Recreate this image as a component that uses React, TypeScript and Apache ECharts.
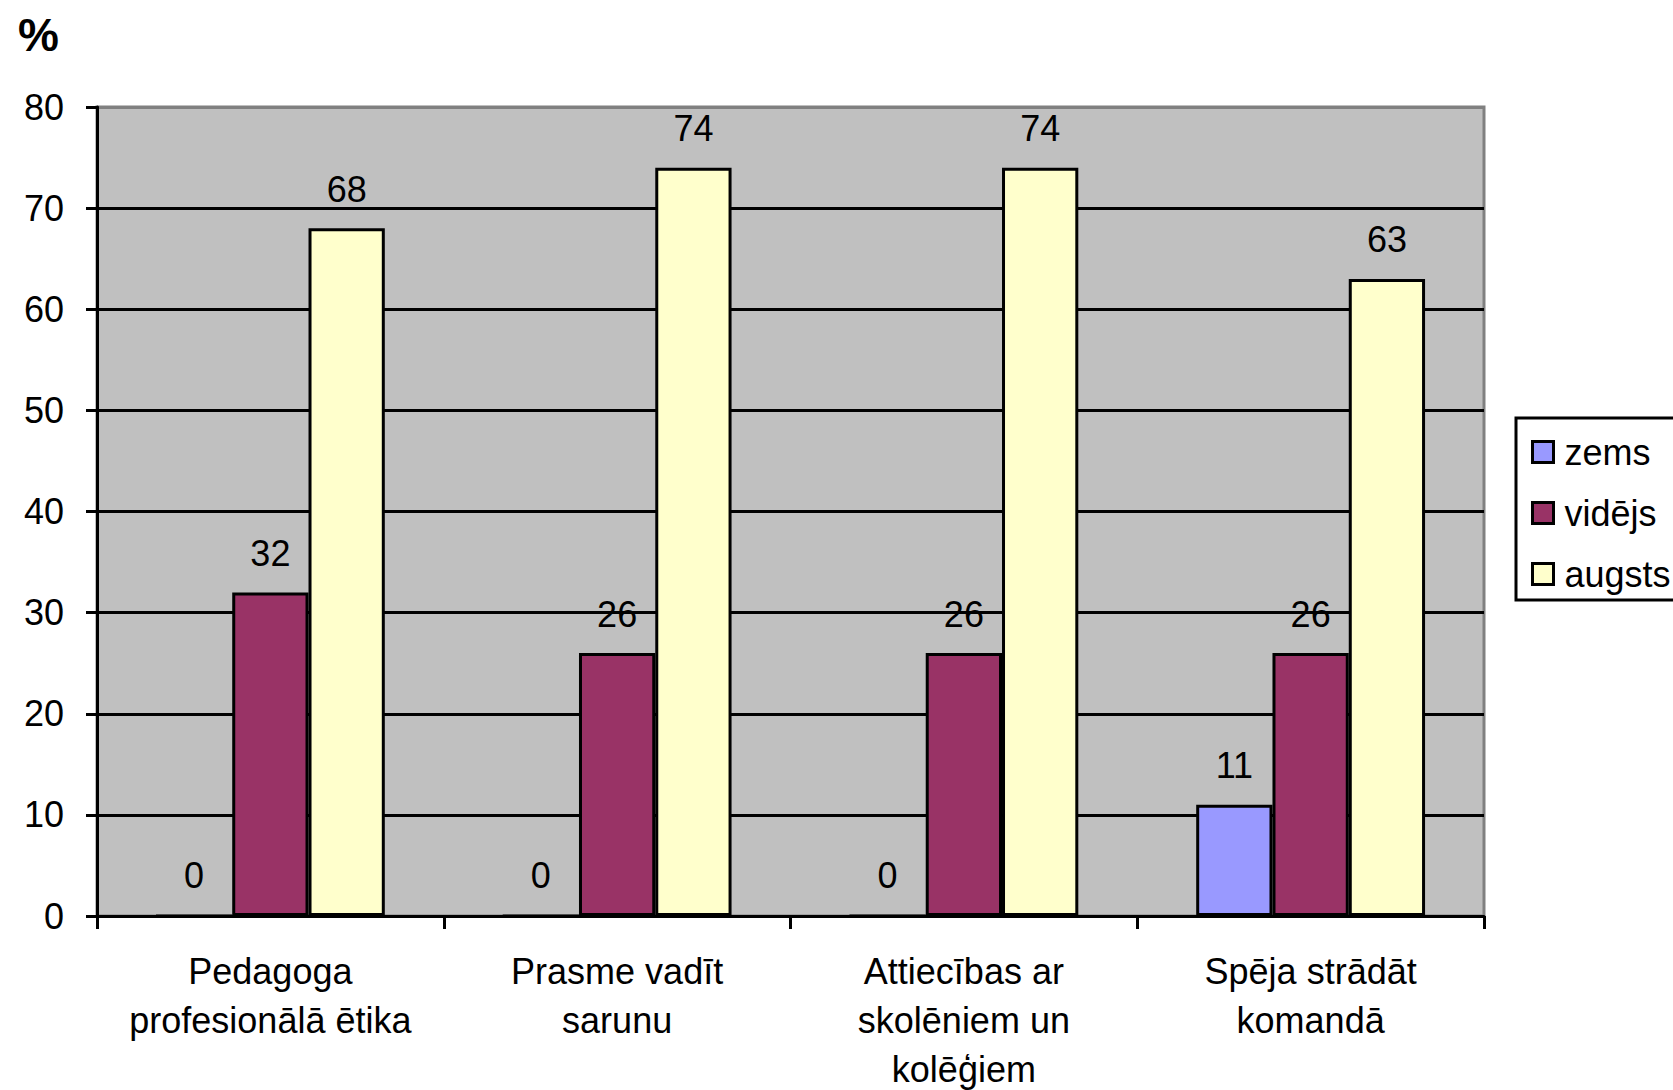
import React, { useEffect, useRef } from "react";
import * as echarts from "echarts";

const categories = [
  "Pedagoga\nprofesionālā ētika",
  "Prasme vadīt\nsarunu",
  "Attiecības ar\nskolēniem un\nkolēģiem",
  "Spēja strādāt\nkomandā",
];
const seriesNames = ["zems", "vidējs", "augsts"];
const zems = [0, 0, 0, 11];
const videjs = [32, 26, 26, 26];
const augsts = [68, 74, 74, 63];
const colors = ["#9999FF", "#993366", "#FFFFCC"];

const FONT = "'Liberation Sans', Arial, sans-serif";

export default function App() {
  const ref = useRef<HTMLDivElement>(null);
  useEffect(() => {
    if (!ref.current) return;
    const chart = echarts.init(ref.current, undefined, { renderer: "svg" });
    const values = [zems, videjs, augsts];
    const splitColors = ["#000", "#000", "#000", "#000", "#000", "#000", "#000", "#000", "#808080"];
    chart.setOption({
      animation: false,
      backgroundColor: "#ffffff",
      textStyle: { fontFamily: FONT },
      grid: {
        left: 97,
        right: 189,
        top: 107,
        bottom: 174,
        containLabel: false,
        outerBoundsMode: "none",
        show: true,
        backgroundColor: "#C0C0C0",
        borderColor: "#808080",
        borderWidth: 3,
      },
      graphic: [
        {
          type: "rect",
          shape: { x: 1516, y: 418, width: 220, height: 182 },
          style: { fill: "#ffffff", stroke: "#000000", lineWidth: 3 },
          z: 0,
        },
        {
          type: "text",
          x: 18,
          y: 12,
          style: { text: "%", fontSize: 46, fontWeight: "bold", fill: "#000", fontFamily: FONT },
        },
      ],
      legend: {
        orient: "vertical",
        left: 1531,
        top: 434,
        padding: 0,
        itemGap: 25,
        itemWidth: 21,
        itemHeight: 21,
        icon: "rect",
        itemStyle: { borderColor: "#000", borderWidth: 3 },
        data: seriesNames,
        textStyle: { fontSize: 36, lineHeight: 36, color: "#000", fontFamily: FONT, padding: [0, 0, 0, 6] },
        z: 5,
      },
      xAxis: {
        type: "category",
        data: categories,
        axisLine: { show: true, lineStyle: { color: "#000", width: 3 } },
        axisTick: { show: true, length: 13, lineStyle: { color: "#000", width: 3 } },
        axisLabel: {
          fontSize: 36,
          lineHeight: 49,
          color: "#000",
          margin: 31,
          interval: 0,
          fontFamily: FONT,
        },
        splitLine: { show: false },
      },
      yAxis: {
        type: "value",
        min: 0,
        max: 80,
        interval: 10,
        axisLine: { show: true, lineStyle: { color: "#000", width: 3 } },
        axisTick: { show: true, length: 11, lineStyle: { color: "#000", width: 3 } },
        axisLabel: { fontSize: 36, color: "#000", margin: 33, fontFamily: FONT },
        splitLine: { show: true, lineStyle: { color: splitColors, width: 3 } },
      },
      series: seriesNames.map((name, i) => ({
        name,
        type: "bar",
        data: values[i],
        barGap: "0%",
        barCategoryGap: "34%",
        itemStyle: { color: colors[i], borderColor: "#000", borderWidth: 3 },
        label: {
          show: true,
          position: "top",
          distance: 21,
          fontSize: 36,
          color: "#000",
          fontFamily: FONT,
        },
      })),
    });
    return () => chart.dispose();
  }, []);
  return (
    <div
      ref={ref}
      style={{ position: "fixed", left: 0, top: 0, width: 1673, height: 1090 }}
    />
  );
}
